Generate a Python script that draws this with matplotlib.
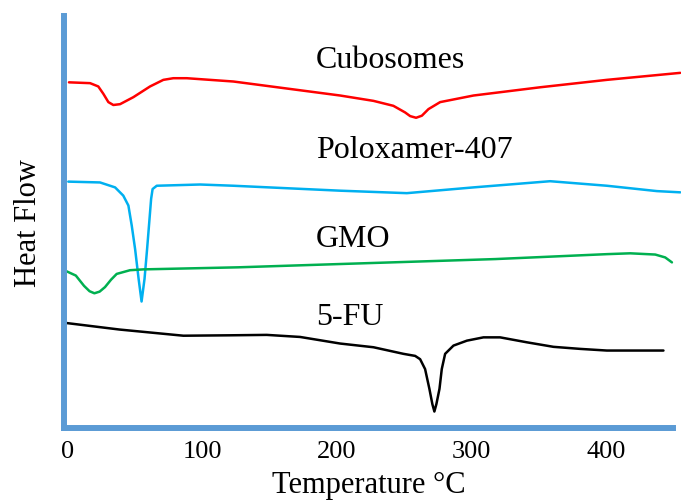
import matplotlib
matplotlib.use('Agg')
import matplotlib.pyplot as plt

plt.rcParams['font.family'] = ['Liberation Serif', 'DejaVu Serif']

# DSC traces (temperature in degC, heat flow in arbitrary units)
cubo_t = [0.7, 16.4, 22.5, 26.3, 30.0, 33.7, 38.7, 48.6, 61.0, 70.9, 78.3, 88.3, 123.0,
          202.4, 227.2, 242.0, 250.7, 254.5, 258.9, 263.2, 268.1, 276.8, 301.6, 351.2,
          400.8, 455.4]
cubo_hf = [83.9, 83.7, 82.9, 81.1, 79.1, 78.4, 78.6, 80.3, 82.9, 84.5, 84.9, 84.9, 84.1,
           80.7, 79.4, 78.2, 76.6, 75.7, 75.3, 75.8, 77.4, 79.1, 80.7, 82.7,
           84.5, 86.2]

polox_t = [0.2, 23.8, 35.0, 41.1, 44.9, 47.4, 49.9, 52.5, 54.7, 56.9, 58.8, 60.6, 61.8,
           62.9, 66.0, 98.2, 123.0, 202.4, 252.0, 301.6, 358.6, 400.8, 438.0, 455.4]
polox_hf = [59.8, 59.6, 58.4, 56.4, 54.0, 49.1, 43.4, 36.2, 30.7, 36.2, 43.4, 50.7, 55.6,
            58.0, 58.8, 59.1, 58.8, 57.6, 57.0, 58.4, 59.9, 58.8, 57.5, 57.2]

gmo_t = [-2.2, 5.8, 11.9, 16.0, 19.6, 23.5, 27.5, 32.0, 36.2, 46.1, 56.0, 126.5, 202.4,
         317.7, 401.0, 418.2, 436.8, 444.2, 449.2]
gmo_hf = [38.2, 37.0, 34.5, 33.2, 32.7, 33.1, 34.2, 36.0, 37.4, 38.3, 38.5, 39.0, 39.8,
          41.0, 42.2, 42.4, 42.1, 41.4, 40.2]

fu_t = [-1.7, 38.2, 85.8, 120.5, 147.8, 172.6, 202.4, 227.2, 249.5, 258.2, 261.9, 265.6,
        268.8, 271.0, 272.5, 274.0, 276.3, 278.0, 280.5, 286.7, 296.7, 309.0, 321.4,
        341.3, 361.1, 381.0, 400.8, 442.9]
fu_hf = [25.5, 23.9, 22.4, 22.5, 22.6, 22.1, 20.5, 19.6, 18.0, 17.5, 16.7, 14.3,
         9.5, 5.8, 4.0, 5.8, 9.5, 14.3, 18.0, 20.0, 21.2, 22.0, 22.0,
         20.8, 19.7, 19.2, 18.8, 18.8]

labels = ['Cubosomes', 'Poloxamer-407', 'GMO', '5-FU']
label_y = [87.6, 65.8, 44.2, 25.2]
label_x = 184.5

fig = plt.figure(figsize=(6.81, 5.02), dpi=100)
ax = fig.add_axes([64 / 681, 73 / 502, 609 / 681, 412 / 502])

line_kw = dict(lw=1.8, clip_on=False, solid_joinstyle='round', solid_capstyle='round')
ax.plot(cubo_t, cubo_hf, color='#FF0000', **line_kw)
ax.plot(polox_t, polox_hf, color='#00B0F0', **line_kw)
ax.plot(gmo_t, gmo_hf, color='#00B050', **line_kw)
ax.plot(fu_t, fu_hf, color='black', **line_kw)

for name, y in zip(labels, label_y):
    ax.text(label_x, y, name, fontsize=23, va='baseline', ha='left')

ax.set_xlim(-3, 450)
ax.set_ylim(0, 100)
ax.set_xticks([0, 100, 200, 300, 400])
ax.set_yticks([])
ax.tick_params(axis='x', length=0, labelsize=19, pad=9)

for side in ['top', 'right']:
    ax.spines[side].set_visible(False)
for side in ['left', 'bottom']:
    ax.spines[side].set_color('#5B9BD5')
    ax.spines[side].set_linewidth(4.3)
    ax.spines[side].set_capstyle('projecting')

ax.set_xlabel('Temperature °C', fontsize=22, labelpad=5.5)
ax.set_ylabel('Heat Flow', fontsize=22, labelpad=15)

fig.savefig('out.png', dpi=100)
